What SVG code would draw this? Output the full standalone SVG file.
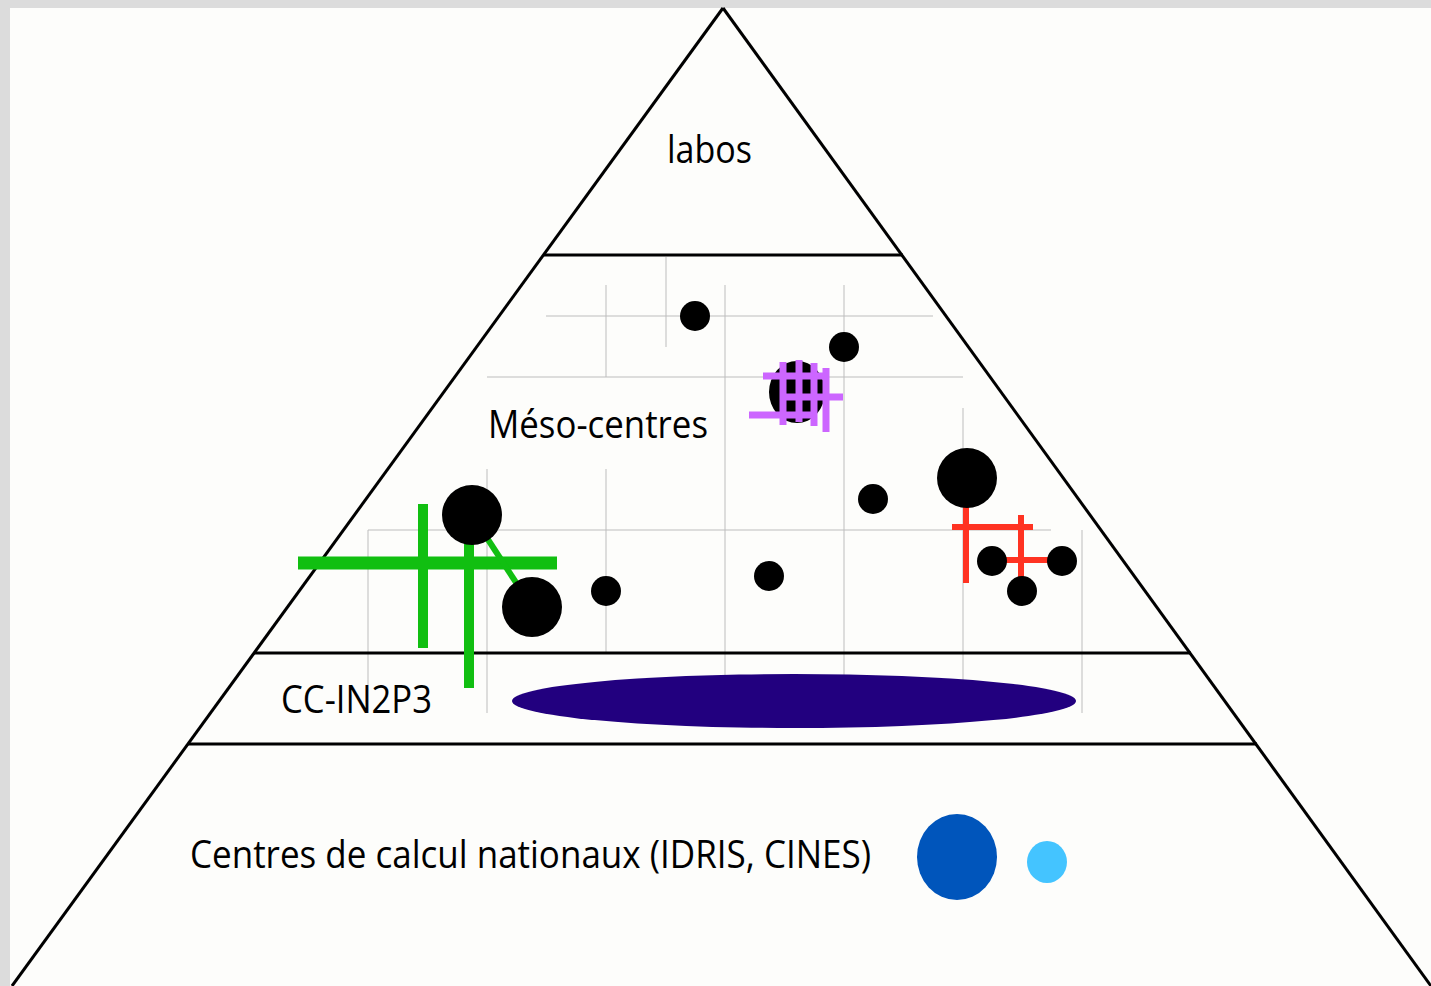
<svg xmlns="http://www.w3.org/2000/svg" width="1431" height="986" viewBox="0 0 1431 986">
<style>
.frame{stroke:#000;stroke-width:3;fill:none}
.grid{stroke:#bdbdbd;stroke-width:1;fill:none}
.dot{fill:#000}
.g{stroke:#11bf11;fill:none}
.r{stroke:#ff3322;stroke-width:6;fill:none}
.p{stroke:#cc66ff;stroke-width:7;fill:none}
.lbl{font-family:"Open Sans","Noto Sans",sans-serif;font-size:38px;fill:#000}
</style>
<rect x="0" y="0" width="1431" height="986" fill="#dcdcdc"/>
<rect x="10" y="8" width="1421" height="978" fill="#fdfdfb"/>
<g id="grid">
<line class="grid" x1="546" y1="316" x2="933" y2="316"/>
<line class="grid" x1="487" y1="377" x2="963" y2="377"/>
<line class="grid" x1="368" y1="530" x2="1051" y2="530"/>
<line class="grid" x1="666" y1="257" x2="666" y2="347"/>
<line class="grid" x1="606" y1="285" x2="606" y2="377"/>
<line class="grid" x1="606" y1="469" x2="606" y2="653"/>
<line class="grid" x1="725" y1="285" x2="725" y2="713"/>
<line class="grid" x1="844" y1="285" x2="844" y2="713"/>
<line class="grid" x1="963" y1="408" x2="963" y2="713"/>
<line class="grid" x1="1082" y1="530" x2="1082" y2="713"/>
<line class="grid" x1="487" y1="469" x2="487" y2="713"/>
<line class="grid" x1="368" y1="530" x2="368" y2="713"/>
</g>
<g id="pyramid">
<line class="frame" x1="723" y1="8" x2="12" y2="986"/>
<line class="frame" x1="723" y1="8" x2="1431" y2="986"/>
<line class="frame" x1="544" y1="255" x2="903" y2="255"/>
<line class="frame" x1="254" y1="653" x2="1191" y2="653"/>
<line class="frame" x1="188" y1="744" x2="1257" y2="744"/>
</g>
<g id="label-labos"><text class="lbl" x="667" y="163" textLength="85" lengthAdjust="spacingAndGlyphs">labos</text></g>
<g id="label-meso"><text class="lbl" x="488" y="438" textLength="220" lengthAdjust="spacingAndGlyphs">Méso-centres</text></g>
<g id="label-cc"><text class="lbl" x="281" y="713" textLength="151" lengthAdjust="spacingAndGlyphs">CC-IN2P3</text></g>
<g id="label-national"><text class="lbl" x="190" y="868" textLength="681" lengthAdjust="spacingAndGlyphs">Centres de calcul nationaux (IDRIS, CINES)</text></g>
<g id="connectors">
<g id="green">
<line class="g" stroke-width="13" x1="298" y1="563" x2="557" y2="563"/>
<line class="g" stroke-width="10" x1="423" y1="504" x2="423" y2="648"/>
<line class="g" stroke-width="10" x1="469" y1="530" x2="469" y2="688"/>
<line class="g" stroke-width="6" x1="472" y1="515" x2="532" y2="607"/>
</g>
<g id="red">
<line class="r" x1="966" y1="505" x2="966" y2="583"/>
<line class="r" x1="952" y1="527" x2="1033" y2="527"/>
<line class="r" x1="1021" y1="515" x2="1021" y2="582"/>
<line class="r" x1="992" y1="560" x2="1062" y2="560"/>
</g>
</g>
<g id="dots">
<circle class="dot" cx="695" cy="316" r="15"/>
<circle class="dot" cx="844" cy="347" r="15"/>
<ellipse class="dot" cx="797" cy="392" rx="28" ry="31"/>
<circle class="dot" cx="873" cy="499" r="15"/>
<circle class="dot" cx="967" cy="478" r="30"/>
<circle class="dot" cx="472" cy="515" r="30"/>
<circle class="dot" cx="532" cy="607" r="30"/>
<circle class="dot" cx="606" cy="591" r="15"/>
<circle class="dot" cx="769" cy="576" r="15"/>
<circle class="dot" cx="992" cy="561" r="15"/>
<circle class="dot" cx="1062" cy="561" r="15"/>
<circle class="dot" cx="1022" cy="591" r="15"/>
</g>
<g id="purple-grid">
<line class="p" x1="763" y1="376" x2="828" y2="376"/>
<line class="p" x1="783" y1="397" x2="843" y2="397"/>
<line class="p" x1="749" y1="415" x2="814" y2="415"/>
<line class="p" x1="783" y1="362" x2="783" y2="425"/>
<line class="p" x1="799" y1="360" x2="799" y2="422"/>
<line class="p" x1="814" y1="363" x2="814" y2="426"/>
<line class="p" x1="826" y1="368" x2="826" y2="432"/>
</g>
<g id="cc-ellipse"><ellipse cx="794" cy="701" rx="282" ry="27" fill="#22007f"/></g>
<g id="national-dots">
<ellipse cx="957" cy="857" rx="40" ry="43" fill="#0055bb"/>
<ellipse cx="1047" cy="862" rx="20" ry="21" fill="#44c4ff"/>
</g>
</svg>
